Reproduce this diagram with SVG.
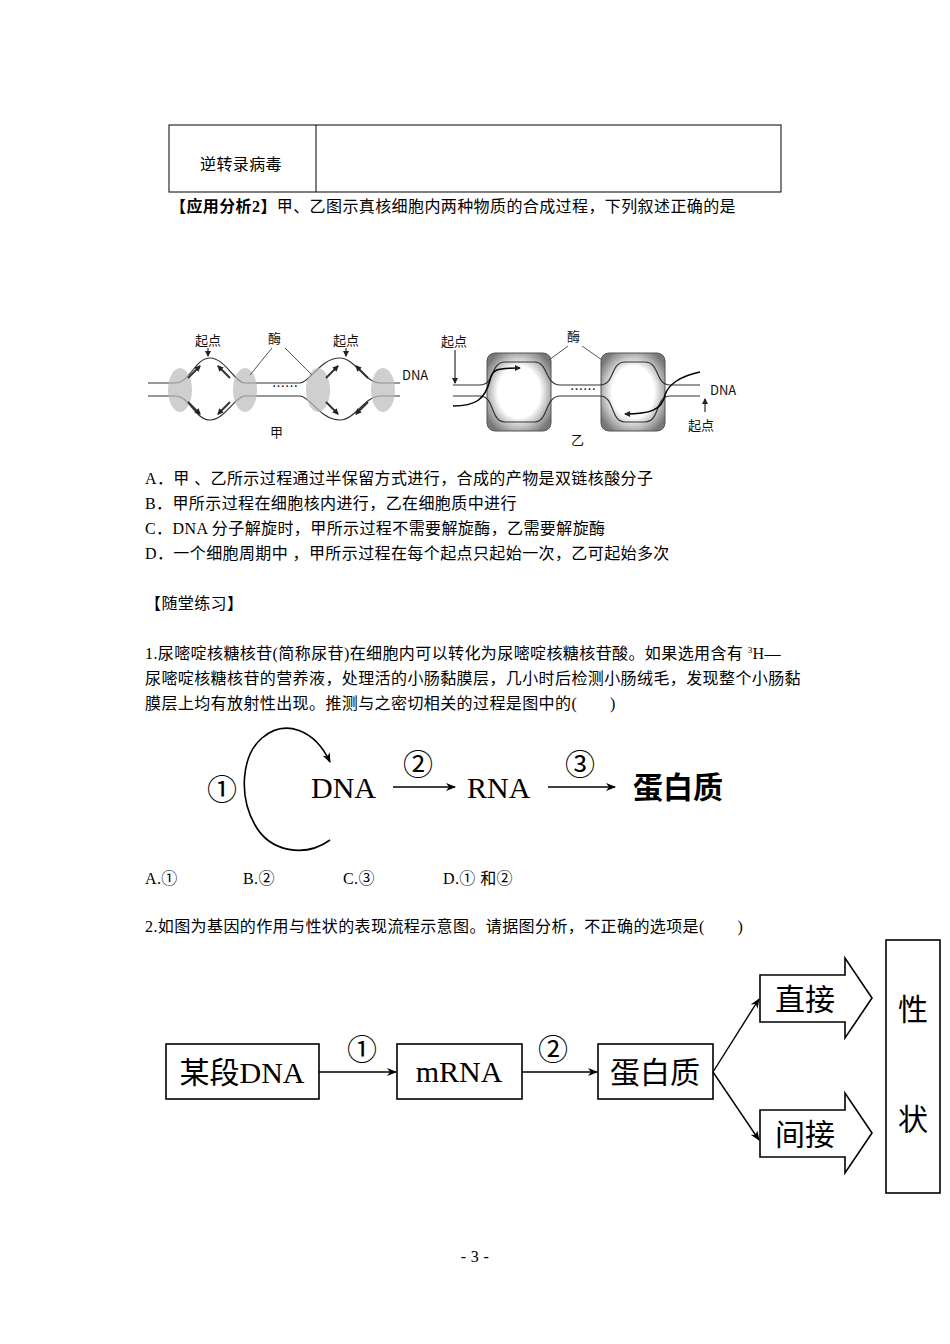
<svg xmlns="http://www.w3.org/2000/svg" width="950" height="1344" viewBox="0 0 950 1344">
<defs>
<marker id="ah" markerWidth="10" markerHeight="8" refX="9" refY="4" orient="auto" markerUnits="userSpaceOnUse"><path d="M0,0 L10,4 L0,8 L3,4 Z" fill="#000"/></marker>
<marker id="sa" markerWidth="6" markerHeight="6" refX="5" refY="3" orient="auto" markerUnits="userSpaceOnUse"><path d="M0,0 L6,3 L0,6 Z" fill="#222"/></marker>
<radialGradient id="gb" cx="50%" cy="50%" r="60%"><stop offset="0.55" stop-color="#fff"/><stop offset="1" stop-color="#777"/></radialGradient>
</defs>
<style>
.t{font-family:"Liberation Serif","Noto Sans CJK SC",serif;font-size:16px;letter-spacing:0.4px;fill:#000}
.s{font-family:"Noto Sans CJK SC",sans-serif;font-size:13px;fill:#111}
.b{fill:none;stroke:#000;stroke-width:1.6}
.ln{fill:none;stroke:#333;stroke-width:1.2}
.big{font-family:"Liberation Serif","Noto Sans CJK SC",serif;font-size:30px;fill:#000}
</style>
<rect width="950" height="1344" fill="#fff"/>
<g id="table">
<rect x="169" y="125" width="612" height="67" fill="none" stroke="#000" stroke-width="1"/>
<line x1="316" y1="125" x2="316" y2="192" stroke="#000"/>
<text class="t" x="200" y="170">逆转录病毒</text>
</g>
<text class="t" x="170" y="212"><tspan font-weight="bold">【应用分析2】</tspan>甲、乙图示真核细胞内两种物质的合成过程，下列叙述正确的是</text>

<g id="fig-jia">
<path class="ln" d="M148,383 H175 C190,383 195,358 210,358 C225,358 235,383 245,383 H300 C310,383 320,358 340,358 C355,358 365,383 380,383 H400"/>
<path class="ln" d="M148,396 H175 C190,396 195,420 210,420 C225,420 235,396 245,396 H300 C310,396 320,420 340,420 C355,420 365,396 380,396 H400"/>
<ellipse cx="180" cy="390" rx="12" ry="22" fill="#bbb" opacity="0.7"/>
<ellipse cx="245" cy="390" rx="12" ry="22" fill="#bbb" opacity="0.7"/>
<ellipse cx="318" cy="390" rx="12" ry="22" fill="#bbb" opacity="0.7"/>
<ellipse cx="383" cy="390" rx="12" ry="22" fill="#bbb" opacity="0.7"/>
<g stroke="#333" stroke-width="2" fill="none" marker-end="url(#sa)">
<line x1="188" y1="378" x2="200" y2="366"/><line x1="230" y1="378" x2="218" y2="366"/>
<line x1="188" y1="402" x2="200" y2="414"/><line x1="230" y1="402" x2="218" y2="414"/>
<line x1="326" y1="378" x2="338" y2="366"/><line x1="368" y1="378" x2="356" y2="366"/>
<line x1="326" y1="402" x2="338" y2="414"/><line x1="368" y1="402" x2="356" y2="414"/>
</g>
<text class="s" x="195" y="345">起点</text>
<line x1="208" y1="348" x2="208" y2="356" stroke="#000" marker-end="url(#sa)"/>
<text class="s" x="333" y="345">起点</text>
<line x1="346" y1="348" x2="346" y2="356" stroke="#000" marker-end="url(#sa)"/>
<text class="s" x="268" y="343">酶</text>
<line x1="272" y1="348" x2="250" y2="375" stroke="#555"/>
<line x1="285" y1="348" x2="312" y2="375" stroke="#555"/>
<text class="s" x="272" y="391">……</text>
<text class="s" x="402" y="380">DNA</text>
<text class="s" x="270" y="437">甲</text>
</g>

<g id="fig-yi">
<rect x="487" y="353" width="64" height="78" rx="8" fill="url(#gb)" stroke="#555"/>
<rect x="601" y="353" width="64" height="78" rx="8" fill="url(#gb)" stroke="#555"/>
<path class="ln" d="M453,385 H480 C495,385 490,362 505,362 H535 C548,362 545,385 560,385 H600 C615,385 610,362 625,362 H645 C660,362 655,385 670,385 H700"/>
<path class="ln" d="M453,396 H480 C495,396 490,422 505,422 H535 C548,422 545,396 560,396 H600 C615,396 610,422 625,422 H645 C660,422 655,396 670,396 H700"/>
<path d="M453,406 C475,406 485,400 490,380 C492,370 495,368 520,368" fill="none" stroke="#000" stroke-width="1.5" marker-end="url(#sa)"/>
<path d="M700,372 C680,376 668,385 665,395 C662,410 650,414 625,414" fill="none" stroke="#000" stroke-width="1.5" marker-end="url(#sa)"/>
<text class="s" x="441" y="346">起点</text>
<line x1="455" y1="350" x2="455" y2="383" stroke="#000" marker-end="url(#sa)"/>
<text class="s" x="567" y="341">酶</text>
<line x1="568" y1="346" x2="549" y2="360" stroke="#555"/>
<line x1="582" y1="346" x2="602" y2="360" stroke="#555"/>
<text class="s" x="570" y="394">……</text>
<text class="s" x="710" y="395">DNA</text>
<line x1="705" y1="412" x2="705" y2="399" stroke="#000" marker-end="url(#sa)"/>
<text class="s" x="688" y="430">起点</text>
<text class="s" x="571" y="445">乙</text>
</g>

<text class="t" x="145" y="484">A．甲 、乙所示过程通过半保留方式进行，合成的产物是双链核酸分子</text>
<text class="t" x="145" y="509">B．甲所示过程在细胞核内进行，乙在细胞质中进行</text>
<text class="t" x="145" y="534">C．DNA 分子解旋时，甲所示过程不需要解旋酶，乙需要解旋酶</text>
<text class="t" x="145" y="559">D．一个细胞周期中 ，甲所示过程在每个起点只起始一次，乙可起始多次</text>
<text class="t" x="145" y="609">【随堂练习】</text>
<text class="t" x="145" y="659">1.尿嘧啶核糖核苷(简称尿苷)在细胞内可以转化为尿嘧啶核糖核苷酸。如果选用含有 <tspan font-size="9" dy="-6">3</tspan><tspan dy="6">H—</tspan></text>
<text class="t" x="145" y="684">尿嘧啶核糖核苷的营养液，处理活的小肠黏膜层，几小时后检测小肠绒毛，发现整个小肠黏</text>
<text class="t" x="145" y="709">膜层上均有放射性出现。推测与之密切相关的过程是图中的(　　)</text>

<g id="fig-central">
<path d="M330,840 C305,858 270,852 255,825 C238,795 242,755 262,738 C285,718 315,730 330,762" fill="none" stroke="#000" stroke-width="1.6" marker-end="url(#ah)"/>
<text class="big" x="222" y="800" text-anchor="middle">①</text>
<text class="big" x="311" y="798">DNA</text>
<text class="big" x="418" y="775" text-anchor="middle">②</text>
<line x1="393" y1="787" x2="455" y2="787" stroke="#000" stroke-width="1.4" marker-end="url(#ah)"/>
<text class="big" x="467" y="798">RNA</text>
<text class="big" x="580" y="775" text-anchor="middle">③</text>
<line x1="548" y1="787" x2="615" y2="787" stroke="#000" stroke-width="1.4" marker-end="url(#ah)"/>
<text class="big" x="633" y="798" font-weight="bold" font-family="Noto Sans CJK SC,sans-serif">蛋白质</text>
</g>
<text class="t" x="145" y="884">A.①</text>
<text class="t" x="243" y="884">B.②</text>
<text class="t" x="343" y="884">C.③</text>
<text class="t" x="443" y="884">D.① 和②</text>
<text class="t" x="145" y="932">2.如图为基因的作用与性状的表现流程示意图。请据图分析，不正确的选项是(　　)</text>

<g id="n-dna"><rect class="b" x="166" y="1044" width="153" height="55" fill="#fff"/><text class="big" x="242" y="1083" text-anchor="middle" font-size="28">某段DNA</text></g>
<g id="n-mrna"><rect class="b" x="397" y="1044" width="125" height="55" fill="#fff"/><text class="big" x="459" y="1082" text-anchor="middle" font-size="27">mRNA</text></g>
<g id="n-prot"><rect class="b" x="598" y="1044" width="115" height="55" fill="#fff"/><text class="big" x="655" y="1083" text-anchor="middle" font-size="28">蛋白质</text></g>
<g id="n-direct"><path class="b" d="M760,975 H845 V958 L872,998 L845,1038 V1022 H760 Z"/><text class="big" x="805" y="1010" text-anchor="middle" font-size="28">直接</text></g>
<g id="n-indirect"><path class="b" d="M760,1110 H845 V1093 L872,1133 L845,1173 V1157 H760 Z"/><text class="big" x="805" y="1145" text-anchor="middle" font-size="28">间接</text></g>
<g id="n-trait"><rect class="b" x="886" y="940" width="54" height="253"/><text class="big" x="913" y="1020" text-anchor="middle" font-size="28">性</text><text class="big" x="913" y="1130" text-anchor="middle" font-size="28">状</text></g>
<g id="connectors" stroke="#000" stroke-width="1.4" fill="none">
<line x1="319" y1="1072" x2="396" y2="1072" marker-end="url(#ah)"/>
<line x1="522" y1="1072" x2="597" y2="1072" marker-end="url(#ah)"/>
<line x1="713" y1="1072" x2="759" y2="999" marker-end="url(#ah)"/>
<line x1="713" y1="1072" x2="759" y2="1140" marker-end="url(#ah)"/>
</g>
<text class="big" x="362" y="1060" text-anchor="middle" font-size="26">①</text>
<text class="big" x="553" y="1060" text-anchor="middle" font-size="26">②</text>
<text class="t" x="475" y="1262" text-anchor="middle" font-size="12">- 3 -</text>
</svg>
